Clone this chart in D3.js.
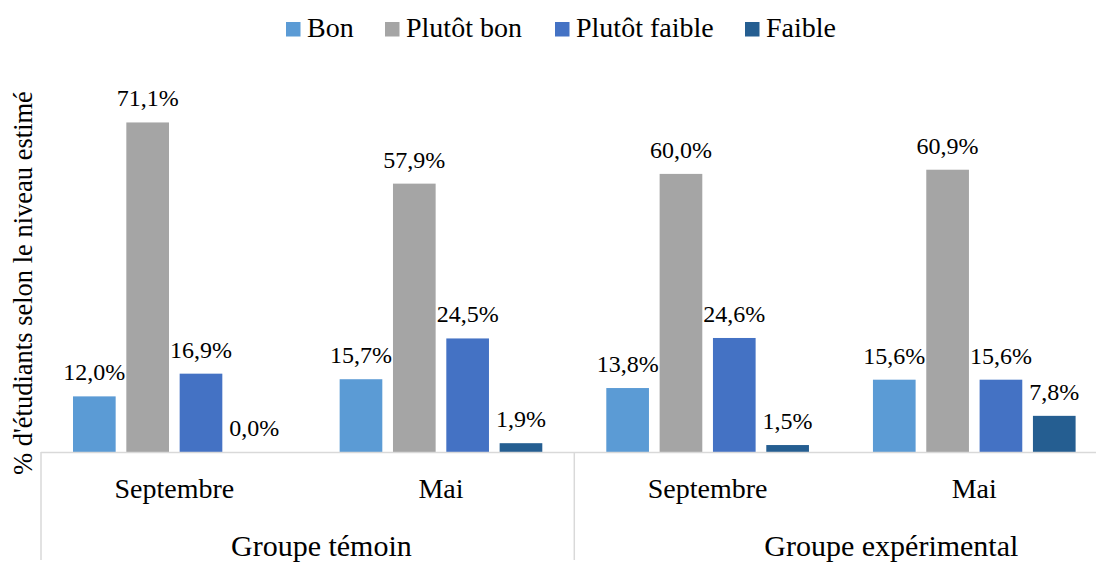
<!DOCTYPE html>
<html>
<head>
<meta charset="utf-8">
<title>Niveau estimé</title>
<script src="https://cdnjs.cloudflare.com/ajax/libs/d3/7.8.5/d3.min.js"></script>
<style>
body {
  margin: 0;
  background: #fff;
}
</style>
</head>
<body>
<svg id="chart" width="1096" height="565"></svg>
<script>
// values
var periods = ["Septembre", "Mai", "Septembre", "Mai"];
var groups = ["Groupe témoin", "Groupe expérimental"];
var seriesNames = ["Bon", "Plutôt bon", "Plutôt faible", "Faible"];
var bon = [12.0, 15.7, 13.8, 15.6];
var plutotBon = [71.1, 57.9, 60.0, 60.9];
var plutotFaible = [16.9, 24.5, 24.6, 15.6];
var faible = [0.0, 1.9, 1.5, 7.8];
var colors = ["#5b9bd5", "#a5a5a5", "#4472c4", "#255e91"];
var yTitle = "% d'étudiants selon le niveau estimé";

var seriesValues = [bon, plutotBon, plutotFaible, faible];
var serif = "Liberation Serif";

var svg = d3.select("#chart");

var left = 41, right = 1107.6, base = 452;

var x0 = d3.scaleBand()
  .domain(d3.range(periods.length))
  .range([left, right])
  .padding(0);

var x1 = d3.scaleBand()
  .domain(seriesNames)
  .range([0, x0.bandwidth()])
  .paddingInner(0.2)
  .paddingOuter(0.6);

var y = d3.scaleLinear()
  .domain([0, 80])
  .range([base, base - 80 * 4.635]);

var fmt = function(v) { return d3.format(".1f")(v).replace(".", ",") + "%"; };

// bars
var cat = svg.selectAll("g.cat")
  .data(periods.map(function(p, i) { return i; }))
  .enter().append("g")
    .attr("class", "cat")
    .attr("transform", function(i) { return "translate(" + x0(i) + ",0)"; });

cat.selectAll("rect")
  .data(function(i) {
    return seriesNames.map(function(s, k) { return {s: s, k: k, v: seriesValues[k][i]}; });
  })
  .enter().append("rect")
    .attr("x", function(d) { return x1(d.s); })
    .attr("y", function(d) { return y(d.v); })
    .attr("width", x1.bandwidth())
    .attr("height", function(d) { return base - y(d.v); })
    .attr("fill", function(d) { return colors[d.k]; });

cat.selectAll("text.val")
  .data(function(i) {
    return seriesNames.map(function(s, k) { return {s: s, k: k, v: seriesValues[k][i]}; });
  })
  .enter().append("text")
    .attr("class", "val")
    .attr("x", function(d) { return x1(d.s) + x1.bandwidth() / 2; })
    .attr("y", function(d) { return y(d.v) - 16; })
    .attr("text-anchor", "middle")
    .style("font-family", serif)
    .style("font-size", "24px")
    .text(function(d) { return fmt(d.v); });

// axis line and group separators
svg.append("line")
  .attr("x1", left).attr("x2", 1096)
  .attr("y1", base + 0.5).attr("y2", base + 0.5)
  .attr("stroke", "#d9d9d9").attr("stroke-width", 1.5);

var groupEdges = [0, 2, 4];
svg.selectAll("line.sep")
  .data(groupEdges)
  .enter().append("line")
    .attr("class", "sep")
    .attr("x1", function(i) { return i < periods.length ? x0(i) : right; })
    .attr("x2", function(i) { return i < periods.length ? x0(i) : right; })
    .attr("y1", base).attr("y2", 560)
    .attr("stroke", "#d9d9d9").attr("stroke-width", 1.5);

// category labels
svg.selectAll("text.period")
  .data(periods)
  .enter().append("text")
    .attr("class", "period")
    .attr("x", function(d, i) { return x0(i) + x0.bandwidth() / 2; })
    .attr("y", 498)
    .attr("text-anchor", "middle")
    .style("font-family", serif)
    .style("font-size", "28px")
    .text(function(d) { return d; });

svg.selectAll("text.group")
  .data(groups)
  .enter().append("text")
    .attr("class", "group")
    .attr("x", function(d, i) { return x0(i * 2) + 190; })
    .attr("y", 556)
    .style("font-family", serif)
    .style("font-size", "30px")
    .text(function(d) { return d; });

// y title
svg.append("text")
  .attr("transform", "translate(32,283) rotate(-90)")
  .attr("text-anchor", "middle")
  .style("font-family", serif)
  .style("font-size", "26.5px")
  .text(yTitle);

// legend
var legendX = [286, 385, 555, 745];
var legend = svg.selectAll("g.leg")
  .data(seriesNames)
  .enter().append("g")
    .attr("class", "leg")
    .attr("transform", function(d, i) { return "translate(" + legendX[i] + ",0)"; });

legend.append("rect")
  .attr("x", 0).attr("y", 22)
  .attr("width", 14.5).attr("height", 14.5)
  .attr("fill", function(d, i) { return colors[i]; });

legend.append("text")
  .attr("x", 21).attr("y", 37)
  .style("font-family", serif)
  .style("font-size", "28px")
  .text(function(d) { return d; });
</script>
</body>
</html>
